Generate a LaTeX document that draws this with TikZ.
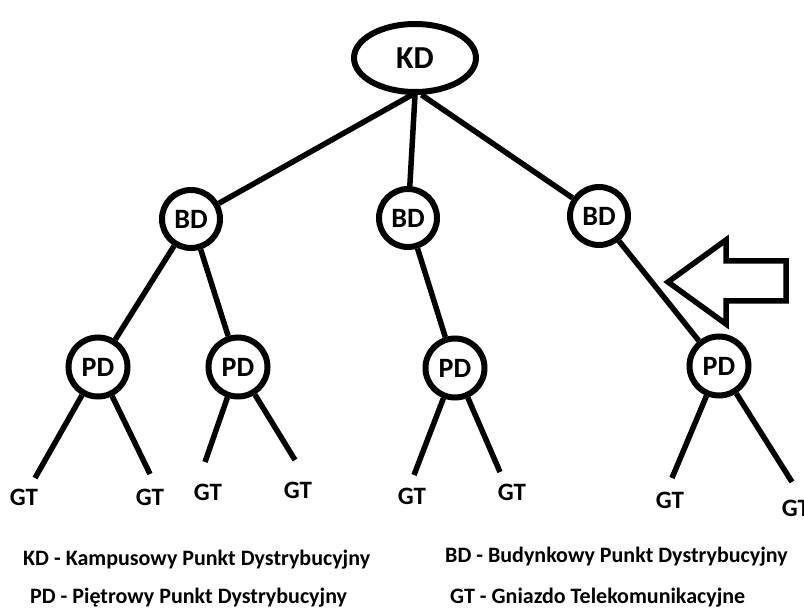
\documentclass[tikz,border=0pt]{standalone}
\usepackage{fontspec}
\setmainfont{Carlito}
\usetikzlibrary{shapes.geometric}
\begin{document}
\begin{tikzpicture}[x=1pt,y=-1pt,
  conn/.style={line width=5.5pt},
  hub/.style={circle,draw,line width=6pt,minimum size=58pt,inner sep=0pt,font=\bfseries\fontsize{28}{28}\selectfont},
  floorhub/.style={hub,minimum size=59pt},
  gt/.style={font=\bfseries\fontsize{25}{25}\selectfont,inner sep=0pt},
  legend/.style={font=\bfseries\fontsize{22}{22}\selectfont,anchor=west,inner sep=0pt},
  blockarrow/.style={draw,line width=5.5pt,line join=miter,fill=white}]
\useasboundingbox[fill=white] (0,0) rectangle (804,612);
\node[ellipse,draw,line width=6pt,minimum width=122pt,minimum height=68pt,inner sep=0pt,font=\bfseries\fontsize{32}{32}\selectfont] (KD) at (415,58) {KD};
\node[hub] (BD1) at (191,219) {BD};
\node[hub] (BD2) at (408,218) {BD};
\node[hub] (BD3) at (599,216) {BD};
\node[floorhub] (PD1) at (98,367) {PD};
\node[floorhub] (PD2) at (238,367) {PD};
\node[floorhub] (PD3) at (455,368) {PD};
\node[floorhub] (PD4) at (719,366) {PD};
\node[gt] (G1) at (24,497) {GT};
\node[gt] (G2) at (150,497) {GT};
\node[gt] (G3) at (208,492) {GT};
\node[gt] (G4) at (298,490) {GT};
\node[gt] (G5) at (412,496) {GT};
\node[gt] (G6) at (512,492) {GT};
\node[gt] (G7) at (670,500) {GT};
\node[gt] (G8) at (796,508) {GT};
\coordinate (e1) at (35,478);
\coordinate (e2) at (150,474);
\coordinate (e3) at (205,462);
\coordinate (e4) at (295,460);
\coordinate (e5) at (414,475);
\coordinate (e6) at (500,472);
\coordinate (e7) at (672,478);
\coordinate (e8) at (792,482);
\draw[conn] (KD.-95) -- (BD1);
\draw[conn] (KD.-90) -- (BD2);
\draw[conn] (KD.-80) -- (BD3);
\draw[conn] (BD1) -- (PD1);
\draw[conn] (BD1) -- (PD2);
\draw[conn] (BD2) -- (PD3);
\draw[conn] (BD3) -- (PD4);
\draw[conn] (PD1) -- (e1);
\draw[conn] (PD1) -- (e2);
\draw[conn] (PD2) -- (e3);
\draw[conn] (PD2) -- (e4);
\draw[conn] (PD3) -- (e5);
\draw[conn] (PD3) -- (e6);
\draw[conn] (PD4) -- (e7);
\draw[conn] (PD4) -- (e8);
\draw[blockarrow] (668,282) -- (726,240) -- (726,261) -- (786,261) -- (786,301) -- (726,301) -- (726,324) -- cycle;
\node[legend] (L1) at (23,560) {KD - Kampusowy Punkt Dystrybucyjny};
\node[legend] (L2) at (445,557) {BD - Budynkowy Punkt Dystrybucyjny};
\node[legend] (L3) at (30,598) {PD - Piętrowy Punkt Dystrybucyjny};
\node[legend] (L4) at (450,598) {GT - Gniazdo Telekomunikacyjne};
\end{tikzpicture}
\end{document}
